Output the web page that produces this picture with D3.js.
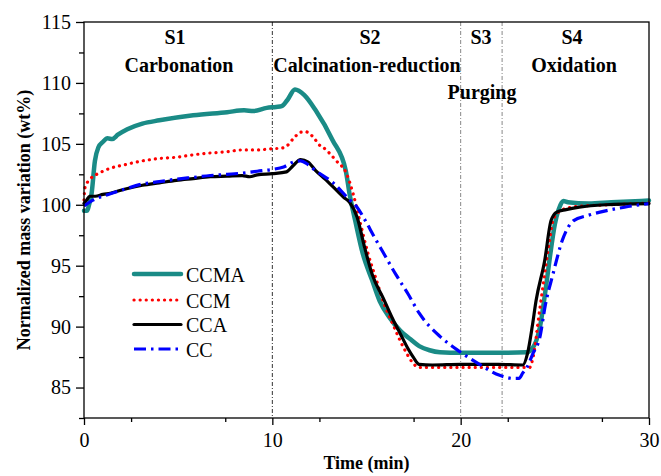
<!DOCTYPE html>
<html>
<head>
<meta charset="utf-8">
<script src="https://cdn.jsdelivr.net/npm/d3@7/dist/d3.min.js"></script>
<style>
  html, body { margin: 0; padding: 0; background: #fff; }
  svg { display: block; }
  text { font-family: "Liberation Serif", "Times New Roman", serif; fill: #000; }
</style>
</head>
<body>
<svg id="chart" width="661" height="476"></svg>
<script>
// ---- Data ----
const ccmaT = [0, 0.15, 0.3, 0.4, 0.58, 0.76, 1.0, 1.25, 1.5, 1.8, 2.3, 3.1, 4.0, 5.8, 7.6, 8.5, 9.0, 9.7, 10.2, 10.5, 10.8, 11.2, 11.7, 12.3, 13.2, 13.9, 14.1, 14.4, 14.8, 15.3, 15.7, 16.2, 16.8, 17.3, 17.8, 18.35, 18.9, 20, 22, 23.5, 23.8, 24.2, 24.55, 24.72, 25.0, 25.2, 25.45, 25.7, 26.8, 28, 30];
const ccmaV = [99.5, 99.5, 100.2, 100.9, 103.6, 104.7, 105.15, 105.45, 105.4, 105.75, 106.2, 106.66, 106.93, 107.35, 107.6, 107.75, 107.7, 107.95, 108.03, 108.1, 108.6, 109.46, 109.0, 107.75, 105.3, 102.8, 100.9, 98.7, 96.0, 93.8, 92.1, 90.8, 89.65, 89.0, 88.4, 88.06, 87.9, 87.85, 87.85, 87.9, 88.2, 89.9, 93.5, 95.5, 98.4, 99.6, 100.3, 100.2, 100.1, 100.2, 100.35];

const ccmT = [0, 0.05, 0.32, 0.67, 1.0, 1.4, 2.2, 3.1, 4.0, 4.9, 5.8, 6.7, 7.6, 8.4, 9.2, 10.0, 10.5, 10.75, 11.1, 11.5, 11.75, 12.17, 12.5, 12.7, 13.4, 13.94, 14.29, 14.64, 15.08, 15.53, 15.88, 16.4, 16.8, 17.1, 17.47, 17.8, 18.5, 20, 22, 23.66, 23.84, 24.19, 24.46, 24.72, 24.9, 25.2, 25.6, 26.5, 28, 30];
const ccmV = [100.4, 101.4, 102.1, 102.5, 102.75, 103.0, 103.3, 103.6, 103.8, 103.9, 104.1, 104.25, 104.35, 104.5, 104.5, 104.6, 104.65, 104.8, 105.4, 105.95, 106.0, 105.56, 104.9, 104.7, 103.6, 102.55, 100.9, 98.7, 96.0, 93.8, 92.1, 90.2, 88.8, 87.9, 87.0, 86.65, 86.65, 86.65, 86.65, 86.65, 87.45, 91.3, 94.3, 97.06, 98.7, 99.4, 99.7, 99.9, 100.0, 100.15];

const ccaT = [0, 0.15, 0.3, 0.6, 1.0, 1.4, 2.2, 3.1, 4.0, 4.9, 5.8, 6.7, 7.6, 8.4, 8.8, 9.2, 10.0, 10.75, 11.1, 11.5, 11.9, 12.3, 12.8, 13.4, 13.8, 14.1, 14.5, 14.9, 15.3, 15.9, 16.4, 16.8, 17.2, 17.5, 17.8, 18.5, 20, 22, 23.3, 23.55, 23.8, 24.0, 24.46, 24.8, 25.1, 25.6, 26.3, 27.7, 30];
const ccaV = [100.1, 100.4, 100.7, 100.7, 100.85, 100.95, 101.3, 101.6, 101.8, 102.0, 102.15, 102.3, 102.35, 102.4, 102.3, 102.45, 102.55, 102.7, 103.2, 103.7, 103.5, 102.8, 102.1, 101.2, 100.6, 100.2, 99.0, 96.5, 94.3, 92.3, 90.6, 89.4, 88.2, 87.45, 86.9, 86.85, 86.9, 86.9, 86.85, 87.8, 90.0, 92.1, 95.4, 98.7, 99.4, 99.6, 99.8, 100.0, 100.1];

const ccT = [0, 0.5, 1.4, 2.2, 3.1, 4.0, 4.9, 5.8, 6.7, 7.6, 8.4, 9.2, 10.0, 10.6, 11.1, 11.5, 11.9, 12.3, 13.23, 14.1, 14.5, 14.9, 15.4, 15.88, 16.59, 17.2, 17.8, 18.9, 19.95, 21.0, 22.07, 22.8, 23.1, 23.3, 23.5, 23.84, 24.2, 24.5, 24.9, 25.4, 26.0, 26.7, 27.7, 28.7, 30];
const ccV = [99.9, 100.4, 100.9, 101.3, 101.7, 101.9, 102.1, 102.25, 102.4, 102.5, 102.6, 102.75, 102.9, 103.1, 103.5, 103.6, 103.3, 102.8, 101.8, 100.4, 99.8, 98.8, 97.4, 96.1, 94.2, 92.7, 91.1, 89.2, 87.95, 86.9, 86.0, 85.75, 85.75, 86.2, 86.6, 87.8, 89.1, 91.8, 94.3, 97.1, 98.7, 99.1, 99.5, 99.8, 100.1];

const seriesNames = ["CCMA", "CCM", "CCA", "CC"];
const xTicks = [0, 10, 20, 30];
const xMinorTicks = [2.5, 7.5, 12.5, 17.5, 22.5, 27.5];
const yTicks = [85, 90, 95, 100, 105, 110, 115];
const yMinorTicks = [82.5, 87.5, 92.5, 97.5, 102.5, 107.5, 112.5];
const stageLines = [10, 20, 22.2];
const stageIds = ["S1", "S2", "S3", "S4"];
const stageNames = ["Carbonation", "Calcination-reduction", "Purging", "Oxidation"];

// ---- Setup ----
const svg = d3.select("#chart");
const L = 84, R = 649, T = 22, B = 418;
const x = d3.scaleLinear().domain([0, 30]).range([L, R]);
const y = d3.scaleLinear().domain([82.5, 115]).range([B, T]);

const styles = {
  CCMA: { color: "#1a8b86", width: 4.5, dash: null, cap: "round" },
  CCM:  { color: "#ff0000", width: 3.2, dash: "0.1 6", cap: "round" },
  CCA:  { color: "#000000", width: 3.2, dash: null, cap: "round" },
  CC:   { color: "#0000ff", width: 3.2, dash: "12 5 2.5 5", cap: "butt" }
};

const data = {
  CCMA: ccmaT.map((t, i) => [t, ccmaV[i]]),
  CCM: ccmT.map((t, i) => [t, ccmV[i]]),
  CCA: ccaT.map((t, i) => [t, ccaV[i]]),
  CC: ccT.map((t, i) => [t, ccV[i]])
};

// stage separator lines
svg.append("g").selectAll("line").data(stageLines).join("line")
  .attr("x1", d => x(d)).attr("x2", d => x(d))
  .attr("y1", T).attr("y2", B)
  .attr("stroke", (d, i) => i === 0 ? "#333" : "#888")
  .attr("stroke-width", 1)
  .attr("stroke-dasharray", "4 2 1 2");

// curves
const line = d3.line().x(d => x(d[0])).y(d => y(d[1])).curve(d3.curveMonotoneX);
const curveG = svg.append("g");
["CCMA", "CCM", "CCA", "CC"].forEach(name => {
  const s = styles[name];
  curveG.append("path")
    .datum(data[name])
    .attr("d", line)
    .attr("fill", "none")
    .attr("stroke", s.color)
    .attr("stroke-width", s.width)
    .attr("stroke-linecap", s.cap)
    .attr("stroke-linejoin", "round")
    .attr("stroke-dasharray", s.dash);
});

// frame
svg.append("rect").attr("x", L).attr("y", T).attr("width", R - L).attr("height", B - T)
  .attr("fill", "none").attr("stroke", "#000").attr("stroke-width", 1.3);

// axes
const xAxis = svg.append("g").attr("transform", `translate(0,${B})`)
  .call(d3.axisBottom(x).tickValues(xTicks).tickSize(7).tickPadding(8).tickFormat(d3.format("d")));
const xMinor = svg.append("g").attr("transform", `translate(0,${B})`)
  .call(d3.axisBottom(x).tickValues(xMinorTicks).tickSize(4).tickFormat(""));
const yAxis = svg.append("g").attr("transform", `translate(${L},0)`)
  .call(d3.axisLeft(y).tickValues(yTicks).tickSize(8).tickPadding(5).tickFormat(d3.format("d")));
const yMinor = svg.append("g").attr("transform", `translate(${L},0)`)
  .call(d3.axisLeft(y).tickValues(yMinorTicks).tickSize(5).tickFormat(""));
[xAxis, xMinor, yAxis, yMinor].forEach(g => {
  g.select(".domain").remove();
  g.selectAll("line").attr("stroke", "#000").attr("stroke-width", 1.3);
  g.selectAll("text").attr("font-family", "Liberation Serif").attr("font-size", 20).attr("fill", "#000");
});

// axis titles
svg.append("text").attr("x", (L + R) / 2).attr("y", 469)
  .attr("text-anchor", "middle").attr("font-weight", "bold").attr("font-size", 18)
  .text("Time (min)");
svg.append("text").attr("transform", `translate(30,${(T + B) / 2}) rotate(-90)`)
  .attr("text-anchor", "middle").attr("font-weight", "bold").attr("font-size", 18)
  .text("Normalized mass variation (wt%)");

// stage labels
const stageX = [175, 370, 481, 572];
const nameX = [179, 367, 482, 574];
const nameY = [72, 72, 99, 72];
svg.append("g").selectAll("text").data(stageIds).join("text")
  .attr("x", (d, i) => stageX[i]).attr("y", 44)
  .attr("text-anchor", "middle").attr("font-weight", "bold").attr("font-size", 20)
  .text(d => d);
svg.append("g").selectAll("text").data(stageNames).join("text")
  .attr("x", (d, i) => nameX[i]).attr("y", (d, i) => nameY[i])
  .attr("text-anchor", "middle").attr("font-weight", "bold").attr("font-size", 20)
  .text(d => d);

// legend
const legend = svg.append("g");
const legY = [274, 300, 324.5, 349];
seriesNames.forEach((name, i) => {
  const s = styles[name];
  legend.append("line")
    .attr("x1", 134).attr("x2", 181).attr("y1", legY[i]).attr("y2", legY[i])
    .attr("stroke", s.color).attr("stroke-width", s.width)
    .attr("stroke-linecap", s.cap).attr("stroke-dasharray", s.dash);
  legend.append("text").attr("x", 186).attr("y", legY[i] + 7.5)
    .attr("font-size", 20).text(name);
});
</script>
</body>
</html>
